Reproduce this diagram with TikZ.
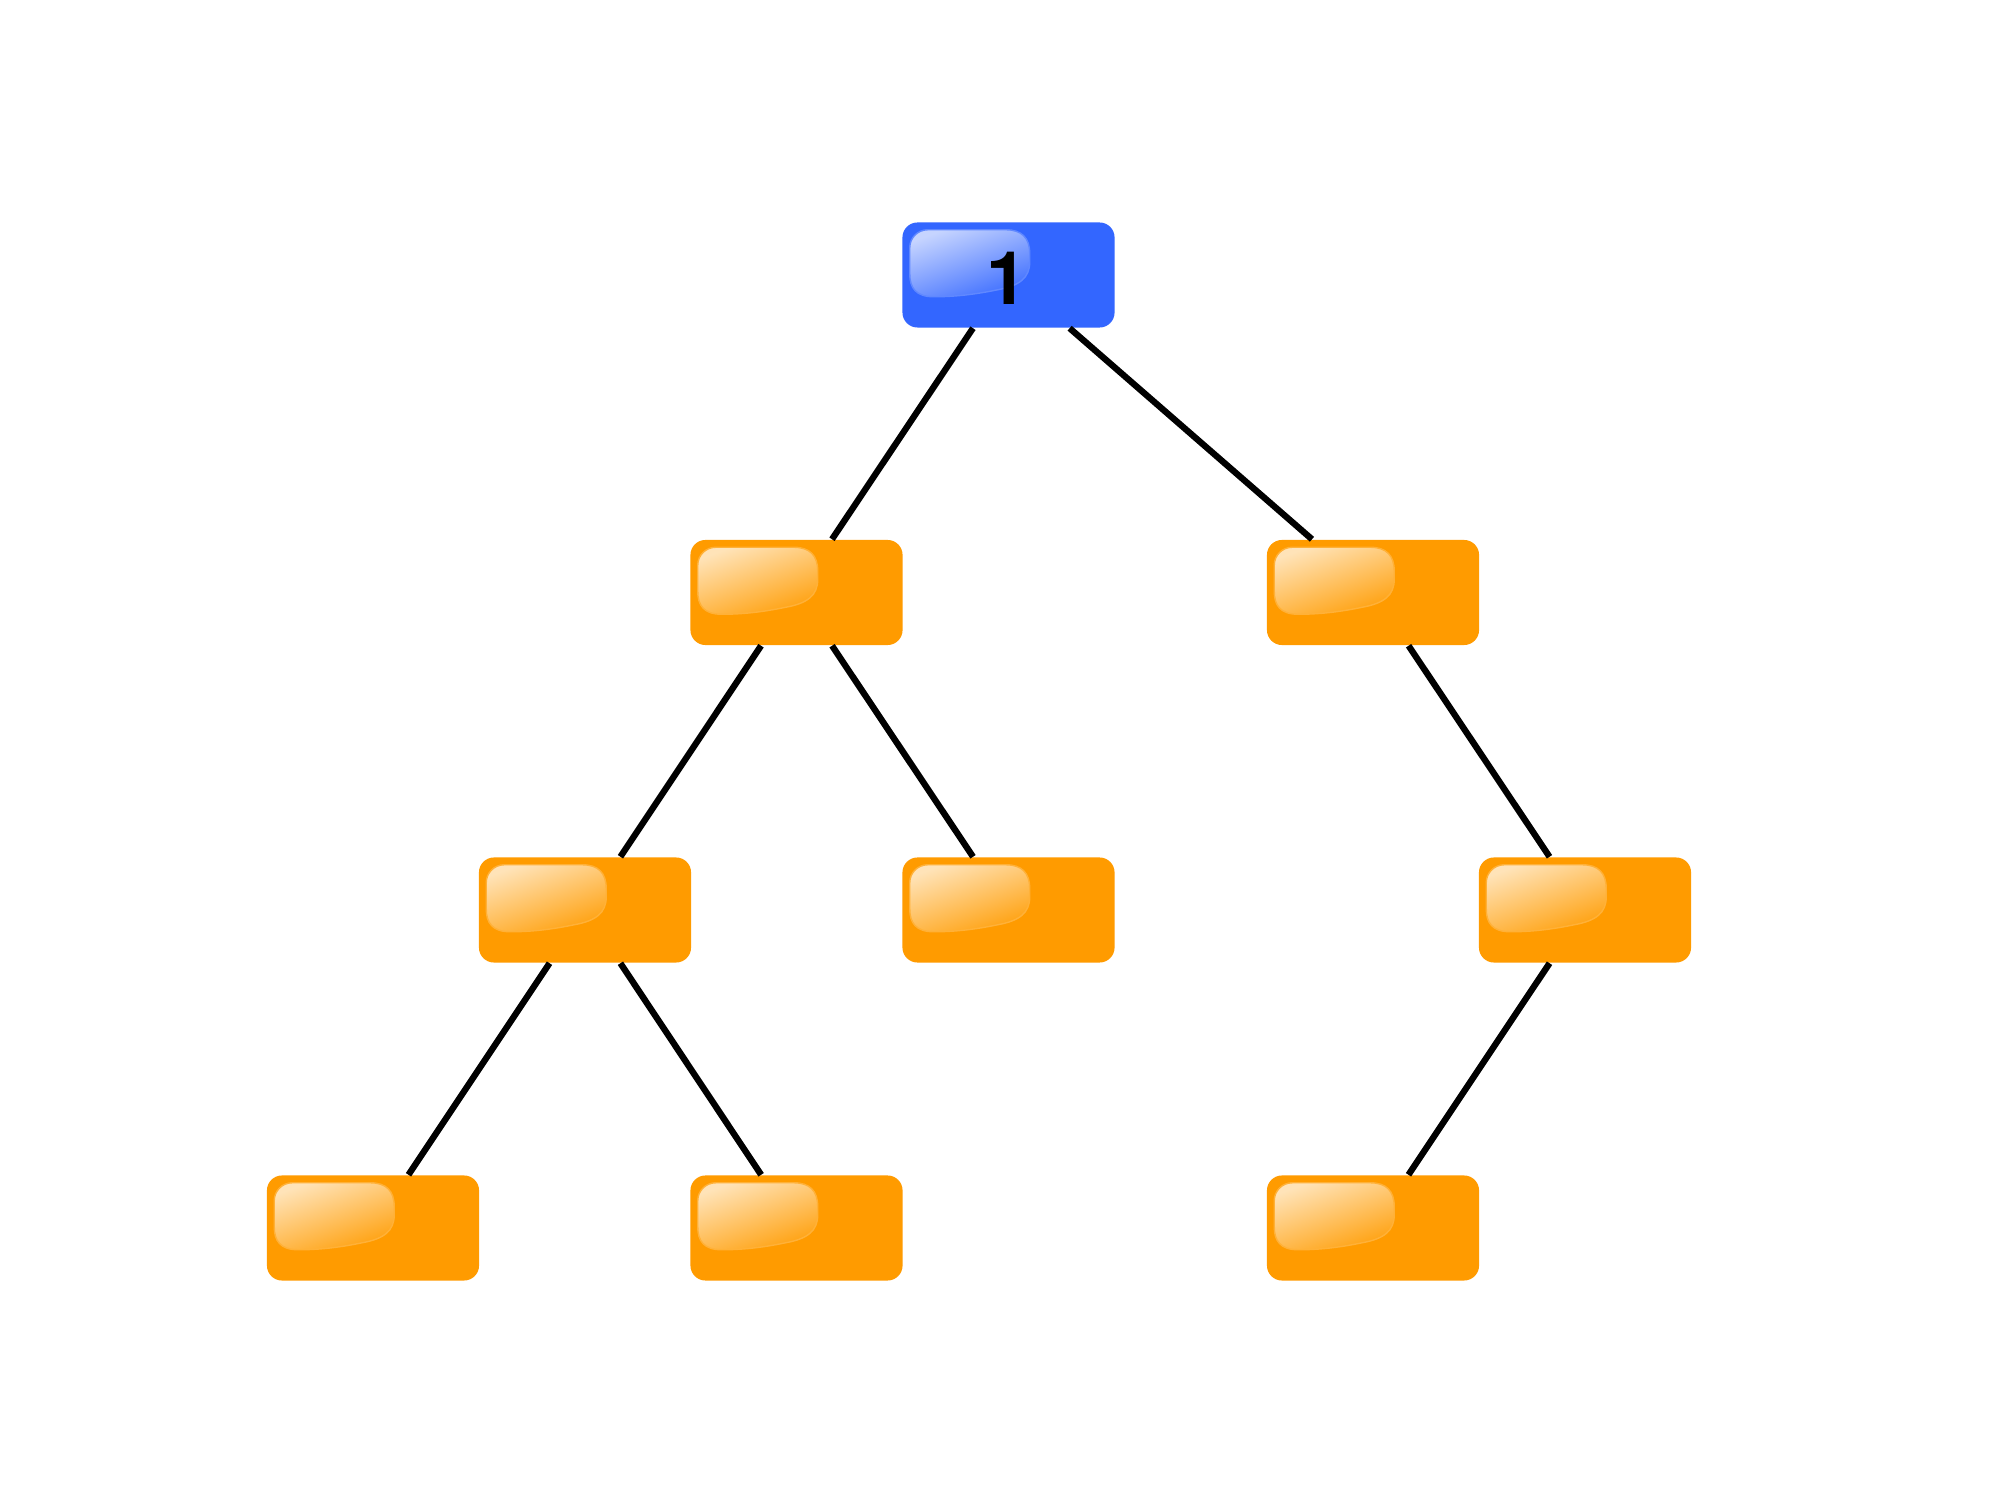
\documentclass[tikz,border=0pt]{standalone}
\usepackage{fontspec}
\newfontfamily\labelfont{TeX Gyre Heros}
\usepackage{tikz}
\usepackage{xcolor}

\definecolor{rootblue}{HTML}{3366FF}
\definecolor{leaforange}{HTML}{FF9B00}

\tikzset{
  treenode/.style={rectangle,rounded corners=0.15cm,fill=#1,draw=none,
    minimum width=2.12cm,minimum height=1.05cm,inner sep=0pt},
  nodelabel/.style={inner sep=0pt,font=\labelfont\bfseries\fontsize{21}{25}\selectfont},
  gloss/.style={top color=white!72!#1,bottom color=white!6!#1,shading angle=20,
    draw=white!22!#1,line width=0.4pt},
  edge/.style={draw=black,line width=1.8pt}
}

% glossy highlight in the upper left of a node
\newcommand\gloss[2]{%
  \begin{scope}[shift={(#1.north west)}]
    \shade[gloss=#2]
      (8,26) .. controls (8,16) and (16,8) .. (26,8) -- (104,8)
      .. controls (120,8) and (128,16) .. (128,32) -- (128,40)
      .. controls (128,56) and (118,64) .. (96,68)
      .. controls (72,73) and (52,75) .. (32,75)
      .. controls (14,75) and (8,66) .. (8,52) -- cycle;
  \end{scope}}

\begin{document}
\begin{tikzpicture}[x=0.01cm,y=-0.01cm]
\useasboundingbox[fill=white] (0,0) rectangle (2000,1492);
% levels of the tree
\node[treenode=rootblue] (root) at (1008.5,275) {};
\node[treenode=leaforange] (l) at (796.5,592.5) {};
\node[treenode=leaforange] (r) at (1373,592.5) {};
\node[treenode=leaforange] (ll) at (585,910) {};
\node[treenode=leaforange] (lr) at (1008.5,910) {};
\node[treenode=leaforange] (rr) at (1585,910) {};
\node[treenode=leaforange] (lll) at (373,1228) {};
\node[treenode=leaforange] (llr) at (796.5,1228) {};
\node[treenode=leaforange] (rrl) at (1373,1228) {};
% highlights
\gloss{root}{rootblue}
\foreach \n in {l,r,ll,lr,rr,lll,llr,rrl}
  \gloss{\n}{leaforange};
\node[nodelabel] (rootlabel) at ([shift={(-1,3)}]root.center) {1};
% edges
\draw[edge] (root) -- (l);
\draw[edge] (root) -- (r);
\draw[edge] (l) -- (ll);
\draw[edge] (l) -- (lr);
\draw[edge] (r) -- (rr);
\draw[edge] (ll) -- (lll);
\draw[edge] (ll) -- (llr);
\draw[edge] (rr) -- (rrl);
\end{tikzpicture}
\end{document}
